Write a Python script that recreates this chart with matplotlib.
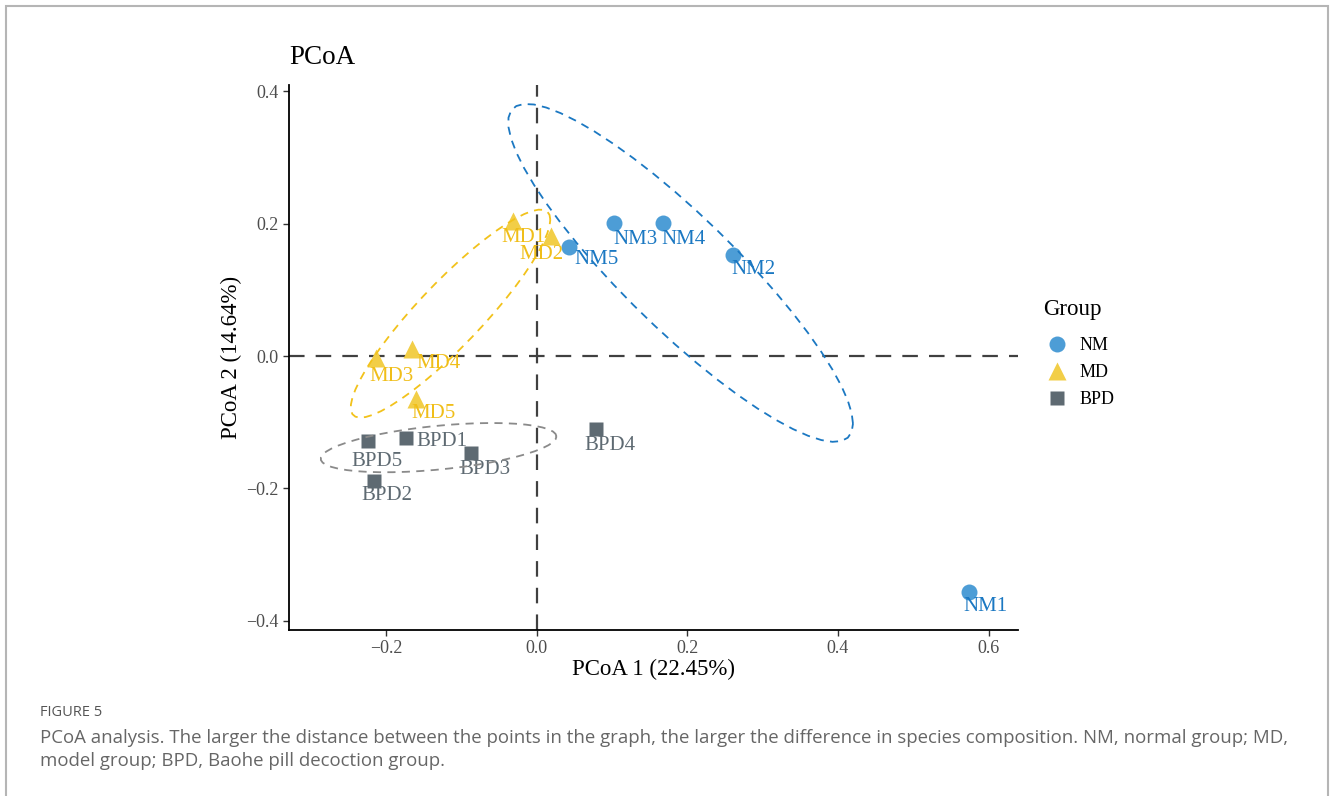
import numpy as np
import matplotlib
matplotlib.use("Agg")
import matplotlib.pyplot as plt
from matplotlib.lines import Line2D
from matplotlib.patches import Rectangle

# PCoA scores per sample
nm_names = ["NM1", "NM2", "NM3", "NM4", "NM5"]
nm_x = [0.574, 0.260, 0.103, 0.167, 0.043]
nm_y = [-0.357, 0.153, 0.201, 0.201, 0.165]

md_names = ["MD1", "MD2", "MD3", "MD4", "MD5"]
md_x = [-0.031, 0.019, -0.213, -0.166, -0.160]
md_y = [0.204, 0.181, -0.003, 0.011, -0.065]

bpd_names = ["BPD1", "BPD2", "BPD3", "BPD4", "BPD5"]
bpd_x = [-0.174, -0.216, -0.087, 0.079, -0.224]
bpd_y = [-0.124, -0.189, -0.147, -0.110, -0.129]

x_ticks = [-0.2, 0.0, 0.2, 0.4, 0.6]
y_ticks = [-0.4, -0.2, 0.0, 0.2, 0.4]

ellipse_level = 0.6

# label nudges (pixels) so the sample names don't sit on the markers
nm_nudge = [(16, -14), (21, -15), (21, -16), (21, -16), (27, -13)]
md_nudge = [(10, -16), (-10, -18), (15, -19), (27, -15), (17, -15)]
bpd_nudge = [(36, -3), (13, -15), (14, -16), (14, -17), (9, -20)]


def cov_trob(x, nu=5, maxit=25, tol=0.01):
    # robust t covariance, same scheme as MASS::cov.trob
    n, p = x.shape
    loc = x.mean(axis=0)
    w = np.ones(n)
    for _ in range(maxit):
        w0 = w
        X = x - loc
        A = np.sqrt(w / w.sum())[:, None] * X
        _, d, vt = np.linalg.svd(A, full_matrices=False)
        wX = X @ vt.T @ np.diag(1 / d)
        Q = (wX ** 2).sum(axis=1)
        w = (nu + p) / (nu + Q)
        loc = (w[:, None] * x).sum(axis=0) / w.sum()
        if np.all(np.abs(w - w0) < tol):
            break
    sx = np.sqrt(w)[:, None] * X
    return sx.T @ sx / n, loc


def t_ellipse(xs, ys, level=0.95, segments=51):
    pts = np.column_stack([xs, ys])
    cov, center = cov_trob(pts)
    d2 = len(xs) - 1
    fq = d2 / 2 * ((1 - level) ** (-2 / d2) - 1)   # qf(level, 2, d2)
    radius = np.sqrt(2 * fq)
    chol = np.linalg.cholesky(cov).T
    ang = np.linspace(0, 2 * np.pi, segments + 1)
    circle = np.column_stack([np.cos(ang), np.sin(ang)])
    ell = center + radius * circle @ chol
    return ell[:, 0], ell[:, 1]


groups = [
    ("NM", nm_names, nm_x, nm_y, nm_nudge, "o", 11.5, "#4D9DD6", "#1B78C2", "#1B78C2"),
    ("MD", md_names, md_x, md_y, md_nudge, "^", 13, "#F2CE47", "#F0BE19", "#F2C21B"),
    ("BPD", bpd_names, bpd_x, bpd_y, bpd_nudge, "s", 10.5, "#5E6A72", "#5E6A72", "#8A8A8A"),
]

plt.rcParams["font.family"] = ["Liberation Serif", "DejaVu Serif"]

fig = plt.figure(figsize=(13.3, 7.96), dpi=100)
ax = fig.add_axes([0.2173, 0.2085, 0.5481, 0.6847])

ax.axhline(0, color="#404040", lw=1.6, ls=(0, (7, 5)), zorder=1)
ax.axvline(0, color="#404040", lw=1.6, ls=(0, (7, 5)), zorder=1)

handles = []
for name, labels, xs, ys, nudges, mk, ms, pcol, tcol, ecol in groups:
    ax.plot(xs, ys, ls="none", marker=mk, ms=ms, color=pcol, mec="none", zorder=3)
    for lab, xv, yv, (dx, dy) in zip(labels, xs, ys, nudges):
        ax.annotate(lab, (xv, yv), xytext=(dx, dy), textcoords="offset pixels",
                    ha="center", va="center", fontsize=15, color=tcol, zorder=4)
    ex, ey = t_ellipse(np.array(xs), np.array(ys), level=ellipse_level)
    ax.plot(ex, ey, color=ecol, lw=1.3, ls=(0, (4.5, 3.5)), zorder=5)
    handles.append(Line2D([], [], ls="none", marker=mk, ms=ms, color=pcol, mec="none", label=name))

ax.set_xlim(-0.329, 0.639)
ax.set_ylim(-0.4144, 0.4098)
ax.set_xticks(x_ticks)
ax.set_yticks(y_ticks)
ax.set_xticklabels([f"{t:.1f}".replace("-", "\u2212") for t in x_ticks])
ax.set_yticklabels([f"{t:.1f}".replace("-", "\u2212") for t in y_ticks])
ax.tick_params(labelsize=13, colors="#333333", labelcolor="#4D4D4D", length=4, width=1)

for side in ("top", "right"):
    ax.spines[side].set_visible(False)
for side in ("left", "bottom"):
    ax.spines[side].set_linewidth(1.3)
    ax.spines[side].set_color("black")

ax.set_xlabel("PCoA 1 (22.45%)", fontsize=16.5, labelpad=1)
ax.set_ylabel("PCoA 2 (14.64%)", fontsize=16.5, labelpad=3)
ax.set_title("PCoA", fontsize=19.5, loc="left", pad=15)

# legend: title drawn on its own so the gap below it is wider
fig.text(1043 / 1330, 1 - 310 / 796, "Group", fontsize=16.5, va="center")
leg = ax.legend(handles=handles, loc="upper left",
                bbox_to_anchor=(1024 / 1330, 1 - 323 / 796), bbox_transform=fig.transFigure,
                frameon=False, fontsize=13,
                handletextpad=0.3, labelspacing=0.55, borderpad=0.3)

# page frame and figure caption
fig.patches.append(Rectangle((6 / 1330, -0.05), 1322 / 1330, 1.05 - 6 / 796,
                             transform=fig.transFigure, fill=False, ec="#B5B5B5", lw=1.5))
fig.text(40 / 1330, 1 - 713 / 796, "FIGURE 5", fontsize=10.5, color="#555555",
         family="Open Sans", va="center")
fig.text(40 / 1330, 1 - 738 / 796,
         "PCoA analysis. The larger the distance between the points in the graph, the larger the "
         "difference in species composition. NM, normal group; MD,",
         fontsize=13.4, color="#666666", family="Open Sans", va="center")
fig.text(40 / 1330, 1 - 761 / 796, "model group; BPD, Baohe pill decoction group.",
         fontsize=13.4, color="#666666", family="Open Sans", va="center")

fig.savefig("out.png", dpi=100)
